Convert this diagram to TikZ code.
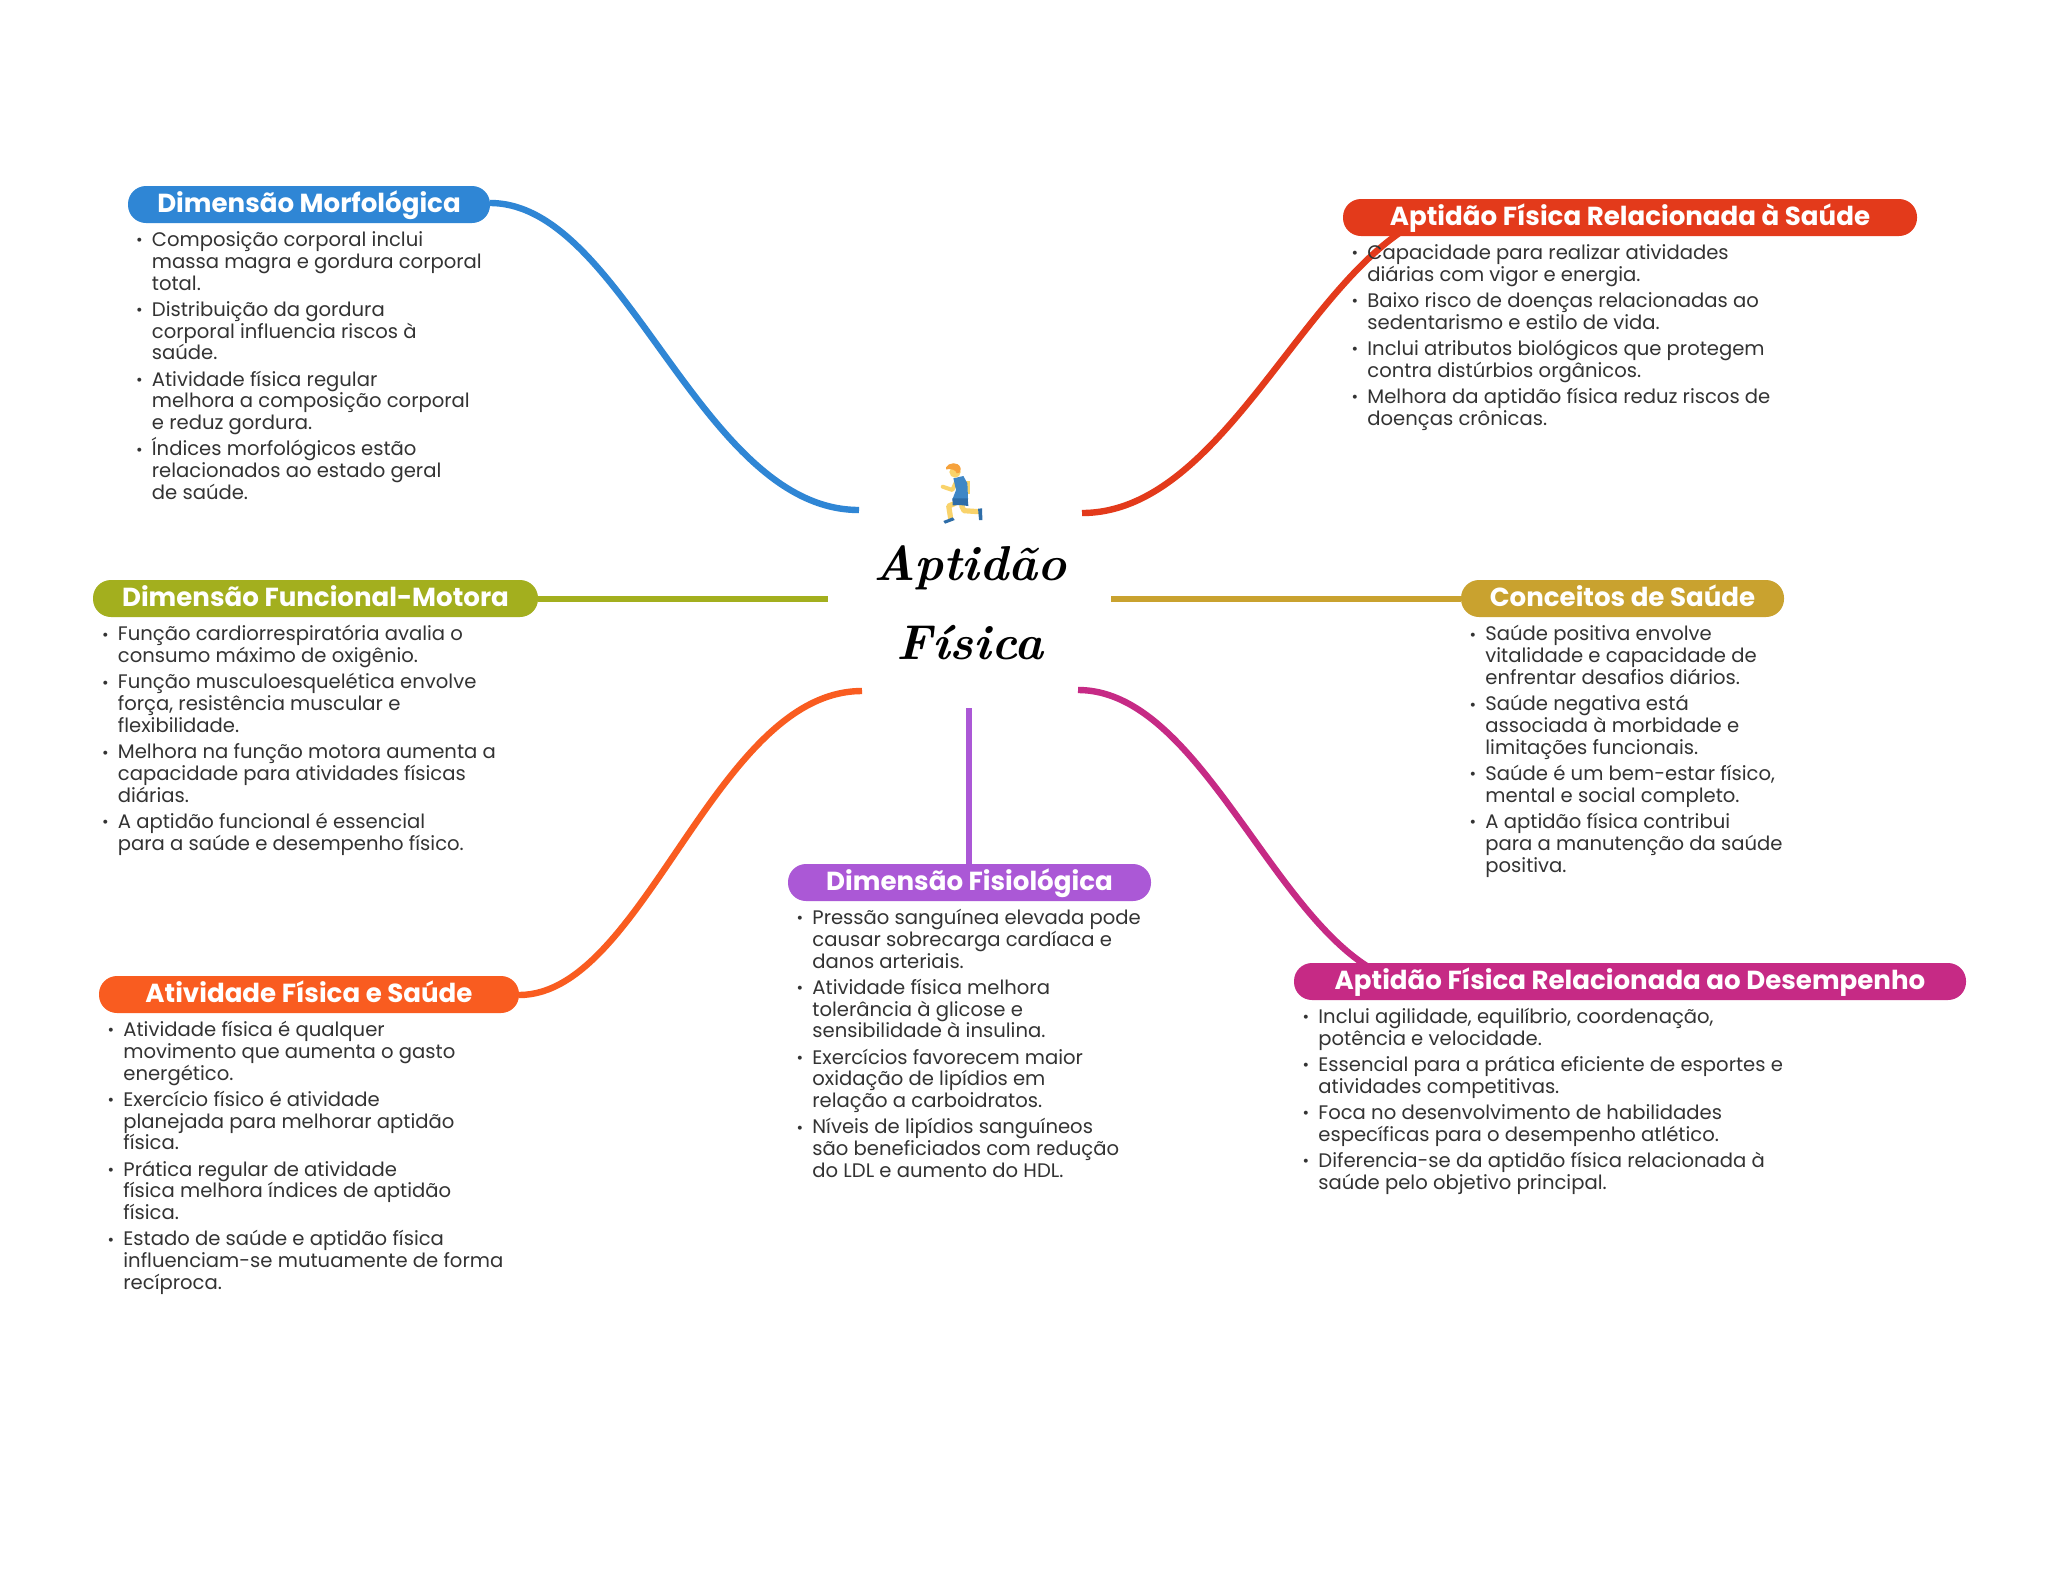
\documentclass[tikz,border=0pt]{standalone}
\usepackage{fontspec}
\newfontfamily\pop{Poppins}
\definecolor{cblue}{HTML}{2F86D5}
\definecolor{cred}{HTML}{E33A1B}
\definecolor{colive}{HTML}{A3AF1E}
\definecolor{cgold}{HTML}{C9A22F}
\definecolor{corange}{HTML}{F95C20}
\definecolor{cpurple}{HTML}{AB58D6}
\definecolor{cmag}{HTML}{C62A85}
\definecolor{ctext}{HTML}{333333}
\definecolor{skin}{HTML}{F9D36B}
\definecolor{hair}{HTML}{F6A23C}
\definecolor{shirt}{HTML}{3F87C6}
\definecolor{shorts}{HTML}{2E6DA8}
\newcommand{\bl}{\makebox[0pt][r]{\raisebox{0.3pt}{\fontsize{8}{8}\selectfont •}\hspace{4.6pt}}\rule{0pt}{9pt}}
\newcommand{\gp}{\\[2.2pt]}
\tikzset{
  pill/.style={rounded corners=9pt,minimum height=18.5pt,inner sep=0pt,text=white,
    text height=10.5pt,text depth=2.6pt,
    font=\pop\bfseries\fontsize{13.05}{14}\selectfont,anchor=center},
  blist/.style={anchor=north west,inner sep=0pt,align=left,text=ctext,
    execute at begin node={\lineskiplimit=-100pt},
    font=\pop\fontsize{9.8}{10.9}\selectfont},
  link/.style={line width=3.2pt},
  limb/.style={line width=#1,skin,line cap=round,line join=round},
}
\begin{document}
\begin{tikzpicture}[x=0.5pt,y=-0.5pt]
\useasboundingbox (0,0) rectangle (2048,1569);
\fill[white] (0,0) rectangle (2048,1569);
% centre
\node[inner sep=0pt,align=center,font=\bfseries\itshape\fontsize{24.5}{39.5}\selectfont] (centre) at (970,603) {Aptidão\\Física};
\coordinate (cb) at (859,510);
\coordinate (cr) at (1082,513);
\coordinate (co) at (828,599);
\coordinate (cg) at (1111,599);
\coordinate (cor) at (862,691);
\coordinate (cm) at (1078,690);
\coordinate (cp) at (969,708);
\coordinate (rend) at (1474,207);
\coordinate (mend) at (1426,985);
\coordinate (pb) at (490,203);
\coordinate (pol) at (538,599);
\coordinate (pgo) at (1461,599);
\coordinate (por) at (519,995);
\coordinate (ppu) at (969,864);
\draw[link,cblue] (pb) .. controls (625,203) and (700,510) .. (cb);
\draw[link,cred] (cr) .. controls (1242,513) and (1325,207) .. (rend);
\draw[link,colive] (pol) -- (co);
\draw[link,cgold] (cg) -- (pgo);
\draw[link,corange] (cor) .. controls (715,691) and (644,995) .. (por);
\draw[link,cmag] (cm) .. controls (1215,690) and (1290,985) .. (mend);
\draw[link,cpurple] (cp) -- (ppu);
% runner
\begin{scope}[shift={(820,440)},x=0.1667pt,y=-0.1667pt]
\fill[skin] (432,122) rectangle (449,162);
\draw[limb=2pt] (408,125) -- (397,150) -- (368,140);
\draw[limb=2.6pt] (405,190) -- (386,198) -- (392,236);
\draw[limb=2.6pt] (425,198) -- (432,212) -- (476,215);
\fill[shirt] (400,115) -- (430,108) -- (442,130) -- (444,178) -- (397,178) -- (408,150) -- cycle;
\fill[shorts] (397,175) -- (443,175) -- (445,198) -- (420,195) -- (398,196) -- cycle;
\fill[skin] (405,96) circle (17);
\fill[hair] (378,82) .. controls (385,68) and (415,62) .. (422,85) .. controls (422,98) and (415,102) .. (410,100) .. controls (408,90) and (395,85) .. (378,88) -- cycle;
\fill[shorts] (370,243) -- (398,232) -- (404,240) -- (375,251) -- cycle;
\fill[shorts] (474,206) -- (486,205) -- (487,240) -- (477,240) -- cycle;
\end{scope}
% pills
\node[pill,fill=cblue,minimum width=181pt] (n1) at (309,204.5) {Dimensão Morfológica};
\node[pill,fill=cred,minimum width=287pt] (n2) at (1630,217.5) {Aptidão Física Relacionada à Saúde};
\node[pill,fill=colive,minimum width=222.5pt] (n3) at (315.5,598.5) {Dimensão Funcional-Motora};
\node[pill,fill=cgold,minimum width=161.5pt] (n4) at (1622.5,598.5) {Conceitos de Saúde};
\node[pill,fill=corange,minimum width=210pt] (n5) at (309,994.5) {Atividade Física e Saúde};
\node[pill,fill=cpurple,minimum width=181.5pt] (n6) at (969.5,882.5) {Dimensão Fisiológica};
\node[pill,fill=cmag,minimum width=336pt] (n7) at (1630,981.5) {Aptidão Física Relacionada ao Desempenho};
% lists
\node[blist] (l1) at (151.5,228) {%
\bl Composição corporal inclui\\massa magra e gordura corporal\\total.\gp
\bl Distribuição da gordura\\corporal influencia riscos à\\saúde.\gp
\bl Atividade física regular\\melhora a composição corporal\\e reduz gordura.\gp
\bl Índices morfológicos estão\\relacionados ao estado geral\\de saúde.};
\node[blist] (l2) at (1367,241) {%
\bl Capacidade para realizar atividades\\diárias com vigor e energia.\gp
\bl Baixo risco de doenças relacionadas ao\\sedentarismo e estilo de vida.\gp
\bl Inclui atributos biológicos que protegem\\contra distúrbios orgânicos.\gp
\bl Melhora da aptidão física reduz riscos de\\doenças crônicas.};
\node[blist] (l3) at (117.5,622.5) {%
\bl Função cardiorrespiratória avalia o\\consumo máximo de oxigênio.\gp
\bl Função musculoesquelética envolve\\força, resistência muscular e\\flexibilidade.\gp
\bl Melhora na função motora aumenta a\\capacidade para atividades físicas\\diárias.\gp
\bl A aptidão funcional é essencial\\para a saúde e desempenho físico.};
\node[blist] (l4) at (1485,622.5) {%
\bl Saúde positiva envolve\\vitalidade e capacidade de\\enfrentar desafios diários.\gp
\bl Saúde negativa está\\associada à morbidade e\\limitações funcionais.\gp
\bl Saúde é um bem-estar físico,\\mental e social completo.\gp
\bl A aptidão física contribui\\para a manutenção da saúde\\positiva.};
\node[blist] (l5) at (123,1018) {%
\bl Atividade física é qualquer\\movimento que aumenta o gasto\\energético.\gp
\bl Exercício físico é atividade\\planejada para melhorar aptidão\\física.\gp
\bl Prática regular de atividade\\física melhora índices de aptidão\\física.\gp
\bl Estado de saúde e aptidão física\\influenciam-se mutuamente de forma\\recíproca.};
\node[blist] (l6) at (812,906) {%
\bl Pressão sanguínea elevada pode\\causar sobrecarga cardíaca e\\danos arteriais.\gp
\bl Atividade física melhora\\tolerância à glicose e\\sensibilidade à insulina.\gp
\bl Exercícios favorecem maior\\oxidação de lipídios em\\relação a carboidratos.\gp
\bl Níveis de lipídios sanguíneos\\são beneficiados com redução\\do LDL e aumento do HDL.};
\node[blist] (l7) at (1318,1005) {%
\bl Inclui agilidade, equilíbrio, coordenação,\\potência e velocidade.\gp
\bl Essencial para a prática eficiente de esportes e\\atividades competitivas.\gp
\bl Foca no desenvolvimento de habilidades\\específicas para o desempenho atlético.\gp
\bl Diferencia-se da aptidão física relacionada à\\saúde pelo objetivo principal.};
\end{tikzpicture}
\end{document}
